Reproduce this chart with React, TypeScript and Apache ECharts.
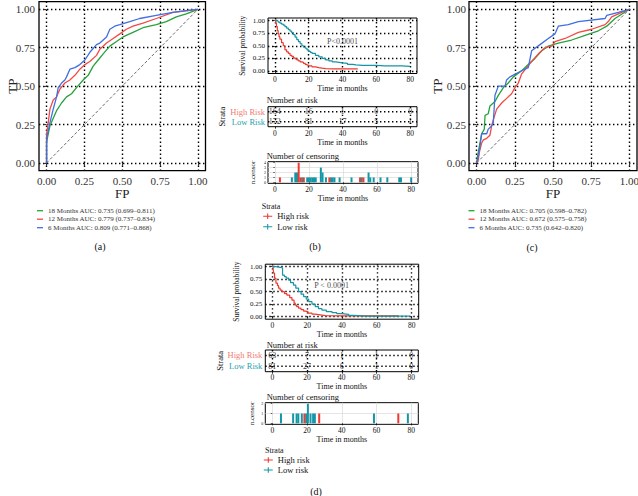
import React, { useEffect, useRef } from 'react';
import * as echarts from 'echarts';

const FONT = 'Liberation Serif';

// ---------- ROC panel (a) ----------
const rocA18: number[][] = [[0,0],[0,0.13],[0.007,0.17],[0.022,0.24],[0.044,0.29],[0.066,0.34],[0.099,0.39],[0.132,0.43],[0.165,0.45],[0.198,0.49],[0.242,0.54],[0.275,0.57],[0.308,0.63],[0.341,0.67],[0.374,0.71],[0.418,0.76],[0.462,0.79],[0.505,0.82],[0.571,0.85],[0.637,0.88],[0.725,0.9],[0.791,0.92],[0.857,0.95],[0.923,0.97],[1,1]];
const rocA12: number[][] = [[0,0],[0,0.19],[0.011,0.26],[0.022,0.35],[0.044,0.41],[0.066,0.43],[0.088,0.48],[0.121,0.52],[0.154,0.54],[0.187,0.57],[0.22,0.61],[0.253,0.64],[0.286,0.66],[0.33,0.7],[0.352,0.74],[0.396,0.78],[0.44,0.81],[0.484,0.84],[0.527,0.87],[0.571,0.89],[0.637,0.91],[0.725,0.94],[0.835,0.98],[0.923,0.99],[1,1]];
const rocA6: number[][] = [[0,0],[0,0.15],[0.007,0.19],[0.022,0.26],[0.044,0.35],[0.066,0.43],[0.077,0.49],[0.099,0.52],[0.121,0.54],[0.132,0.56],[0.154,0.61],[0.187,0.62],[0.22,0.64],[0.253,0.67],[0.286,0.72],[0.33,0.77],[0.352,0.78],[0.396,0.82],[0.418,0.87],[0.45,0.89],[0.484,0.9],[0.55,0.92],[0.615,0.94],[0.725,0.96],[0.835,0.98],[0.945,0.995],[1,1]];
const rocALabels = ['18 Months AUC: 0.735 (0.699–0.811)', '12 Months AUC: 0.779 (0.737–0.834)', '6 Months AUC: 0.809 (0.771–0.868)'];

// ---------- ROC panel (c) ----------
const rocC18: number[][] = [[0,0],[0.007,0.05],[0.022,0.13],[0.033,0.19],[0.05,0.22],[0.055,0.31],[0.076,0.32],[0.087,0.37],[0.12,0.4],[0.142,0.44],[0.175,0.49],[0.207,0.52],[0.24,0.56],[0.295,0.6],[0.338,0.64],[0.382,0.68],[0.426,0.73],[0.469,0.76],[0.535,0.78],[0.622,0.8],[0.71,0.83],[0.797,0.86],[0.852,0.89],[0.906,0.94],[1,1]];
const rocC12: number[][] = [[0,0],[0.011,0.02],[0.017,0.065],[0.033,0.13],[0.044,0.15],[0.066,0.16],[0.087,0.18],[0.098,0.24],[0.109,0.28],[0.131,0.35],[0.164,0.39],[0.207,0.43],[0.229,0.45],[0.251,0.49],[0.273,0.52],[0.295,0.58],[0.328,0.62],[0.36,0.66],[0.404,0.71],[0.448,0.75],[0.491,0.76],[0.513,0.79],[0.579,0.81],[0.666,0.85],[0.753,0.87],[0.841,0.9],[0.862,0.92],[0.884,0.95],[0.95,0.98],[1,1]];
const rocC6: number[][] = [[0,0],[0.011,0.04],[0.022,0.11],[0.033,0.19],[0.066,0.19],[0.076,0.22],[0.098,0.24],[0.109,0.26],[0.12,0.44],[0.142,0.5],[0.186,0.5],[0.196,0.54],[0.218,0.56],[0.295,0.6],[0.338,0.62],[0.36,0.73],[0.415,0.77],[0.469,0.81],[0.513,0.84],[0.535,0.89],[0.6,0.9],[0.666,0.92],[0.841,0.94],[0.852,0.96],[0.928,0.98],[1,1]];
const rocCLabels = ['18 Months AUC: 0.705 (0.598–0.782)', '12 Months AUC: 0.672 (0.575–0.758)', '6 Months AUC: 0.735 (0.642–0.820)'];

const ROC_TICKS = [0, 0.25, 0.5, 0.75, 1];
const SURV_TICKS = [0, 0.25, 0.5, 0.75, 1];
const TIME_TICKS = [0, 20, 40, 60, 80];

// ---------- KM panel (b) ----------
const kmHighBTime = [0,0.5,1,1.5,2,2.5,3,4,5,6,7,8,9,10,11,12,13,14,15,16,17,18,19,20,22,24,26,28,30,35,40,45,49];
const kmHighBSurv = [1,0.95,0.88,0.8,0.74,0.68,0.63,0.56,0.5,0.42,0.38,0.35,0.31,0.29,0.26,0.24,0.22,0.2,0.18,0.17,0.15,0.13,0.115,0.1,0.08,0.066,0.055,0.046,0.04,0.04,0.04,0.04,0.04];
const kmLowBTime = [0,1,2,3,4,5,6,7,8,9,10,11,12,13,14,15,16,17,18,19,20,21,22,24,26,28,30,32,34,36,38,40,43,46,48,52,56,60,65,70,75,80];
const kmLowBSurv = [1,0.99,0.97,0.95,0.93,0.91,0.88,0.85,0.82,0.79,0.76,0.72,0.67,0.62,0.58,0.54,0.5,0.47,0.45,0.42,0.39,0.37,0.35,0.31,0.28,0.25,0.22,0.2,0.18,0.17,0.16,0.15,0.13,0.12,0.11,0.11,0.11,0.1,0.1,0.1,0.09,0.09];
const riskHighB = [164, 16, 1, 0, 0];
const riskLowB = [172, 81, 17, 5, 1];
const censorHighB: number[][] = [[3,1],[14,4],[15,1],[17,1],[32,1],[50,1],[52,1]];
const censorLowB: number[][] = [[10,1],[12,2],[13,2],[16,1],[19,1],[20,1],[21,1],[22,1],[23,1],[24,1],[27,3],[28,2],[30,1],[33,1],[34,1],[35,1],[38,1],[45,1],[51,1],[55,2],[56,1],[58,1],[62,1],[66,1],[73,1],[74,1],[80,1]];

// ---------- KM panel (d) ----------
const kmHighDTime = [0,0.5,0.8,1.3,2.1,3,3.6,4.5,5.6,7,8.4,10,11.3,12.5,13.2,14,15.1,16.5,18,19,20.5,22.8,24.5,26.6,28.5,30.4,40,50,60,72.5];
const kmHighDSurv = [1,0.95,0.87,0.77,0.67,0.62,0.57,0.53,0.5,0.46,0.43,0.38,0.33,0.27,0.23,0.2,0.17,0.14,0.11,0.1,0.07,0.05,0.04,0.03,0.02,0.016,0.016,0.016,0.016,0.016];
const kmLowDTime = [0,2,4,5.6,5.9,7,8,9.4,10.5,12.2,13.5,15.1,16.5,18,19.5,20.9,22.8,24.7,26.5,28.5,31,34.3,37,40,43.8,46,49.6,53,57.2,60,70,79];
const kmLowDSurv = [1,0.99,0.98,0.97,0.83,0.8,0.77,0.73,0.68,0.63,0.57,0.5,0.45,0.4,0.35,0.3,0.25,0.2,0.16,0.13,0.1,0.08,0.06,0.047,0.027,0.02,0.013,0.012,0.012,0.012,0.012,0.012];
const riskHighD = [63, 7, 1, 1, 0];
const riskLowD = [81, 27, 6, 1, 0];
const censorHighD: number[][] = [[18.5,1],[27,1],[72.5,1]];
const censorLowD: number[][] = [[5,1],[12,1],[14,1],[15,1],[17,1],[19.5,1],[20.5,2],[22,1],[23.5,1],[24.5,1],[58.5,1],[78,1]];

const STRATA = ['High risk', 'Low risk'];
const ROWS = ['Low Risk', 'High Risk'];

const C_GREEN = '#25a23b';
const C_RED_ROC = '#f24a44';
const C_BLUE = '#3f6fe3';
const C_RED = '#ee3a2f';
const C_TEAL = '#1596a6';
const C_RED_TXT = '#f27b73';
const C_TEAL_TXT = '#1fa3ae';

const DOT: any = { color: '#000', width: 1.4, type: [1.4, 2.6] };
const GRAY: any = { color: '#dadada', width: 0.7, type: 'solid' };
const STRATA_ICON = 'path://M0,2.5H10V3.5H0Z M4.4,0H5.6V6H4.4Z';

const zip = (t: number[], s: number[]) => t.map((v, i) => [v, s[i]]);

function rocAxes(gi: number, tpGap: number, labelMarginY: number) {
  const base: any = {
    gridIndex: gi, type: 'value', min: -0.05, max: 1.05,
    axisLine: { show: false },
    axisTick: { show: true, length: 3, customValues: ROC_TICKS, lineStyle: { color: '#333', width: 1 } },
    axisLabel: { customValues: ROC_TICKS, formatter: (v: number) => v.toFixed(2), fontSize: 11, color: '#333', fontFamily: FONT, margin: 5 },
    splitLine: { show: true, lineStyle: DOT },
    nameLocation: 'middle', nameMoveOverlap: false,
    nameTextStyle: { fontSize: 13, fontFamily: FONT, color: '#222' },
  };
  return {
    x: { ...base, name: 'FP', nameGap: 16 },
    y: { ...base, name: 'TP', nameGap: tpGap, nameRotate: 90, axisLabel: { ...base.axisLabel, margin: labelMarginY } },
  };
}

function timeAxis(gi: number, margin: number, nameGap: number, split: any) {
  return {
    gridIndex: gi, type: 'value', min: -4, max: 84,
    axisLine: { show: false },
    axisTick: { show: true, length: 2, customValues: TIME_TICKS, lineStyle: { color: '#000', width: 0.8 } },
    axisLabel: { customValues: TIME_TICKS, fontSize: 7.5, lineHeight: 7.5, color: '#111', fontFamily: FONT, margin },
    splitLine: { show: true, lineStyle: split },
    name: 'Time in months', nameLocation: 'middle', nameGap, nameMoveOverlap: false,
    nameTextStyle: { fontSize: 8, lineHeight: 8, fontFamily: FONT, color: '#111' },
  };
}

function survAxis(gi: number, nameGap: number) {
  return {
    gridIndex: gi, type: 'value', min: -0.05, max: 1.05,
    axisLine: { show: false },
    axisTick: { show: true, length: 2, customValues: SURV_TICKS, lineStyle: { color: '#000', width: 0.8 } },
    axisLabel: { customValues: SURV_TICKS, formatter: (v: number) => v.toFixed(2), fontSize: 7, color: '#111', fontFamily: FONT, margin: 3 },
    splitLine: { show: true, lineStyle: DOT },
    name: 'Survival probability', nameLocation: 'middle', nameRotate: 90, nameGap, nameMoveOverlap: false,
    nameTextStyle: { fontSize: 7.5, fontFamily: FONT, color: '#111' },
  };
}

function riskYAxis(gi: number, nameGap: number) {
  return {
    gridIndex: gi, type: 'category', data: ROWS,
    axisLine: { show: false },
    axisTick: { show: true, length: 2, alignWithLabel: true, interval: 0, lineStyle: { color: '#000', width: 0.8 } },
    axisLabel: {
      margin: 3, interval: 0, hideOverlap: false,
      formatter: (v: string) => (v === 'High Risk' ? '{h|' + v + '}' : '{l|' + v + '}'),
      rich: {
        h: { color: C_RED_TXT, fontSize: 8.5, fontFamily: FONT, lineHeight: 9 },
        l: { color: C_TEAL_TXT, fontSize: 8.5, fontFamily: FONT, lineHeight: 9 },
      },
    },
    splitLine: { show: false },
    name: 'Strata', nameLocation: 'middle', nameRotate: 90, nameGap, nameMoveOverlap: false,
    nameTextStyle: { fontSize: 8.5, fontFamily: FONT, color: '#111' },
  };
}

function censorYAxis(gi: number, max: number, ticks: number[], nameGap: number) {
  return {
    gridIndex: gi, type: 'value', min: -max * 0.05, max: max * 1.05,
    axisLine: { show: false },
    axisTick: { show: true, length: 1.5, customValues: ticks, lineStyle: { color: '#000', width: 0.6 } },
    axisLabel: { customValues: ticks, fontSize: 4, lineHeight: 4, color: '#111', fontFamily: FONT, margin: 2 },
    splitLine: { show: true, lineStyle: GRAY },
    name: 'n.censor', nameLocation: 'middle', nameRotate: 90, nameGap, nameMoveOverlap: false,
    nameTextStyle: { fontSize: 7, fontFamily: FONT, color: '#111' },
  };
}

function rocSeries(ai: number, data: number[][][], names: string[]) {
  const colors = [C_GREEN, C_RED_ROC, C_BLUE];
  const s: any[] = data.map((d, i) => ({
    type: 'line', name: names[i], xAxisIndex: ai, yAxisIndex: ai, data: d,
    color: colors[i], showSymbol: false, symbol: 'none', lineStyle: { width: 1.3, color: colors[i] }, z: 3,
  }));
  s.push({
    type: 'line', name: 'diag' + ai, xAxisIndex: ai, yAxisIndex: ai, data: [[0, 0], [1, 1]],
    showSymbol: false, symbol: 'none', color: '#444', lineStyle: { width: 0.8, color: '#444', type: [3, 2] }, z: 2,
  });
  return s;
}

function kmSeries(ai: number, high: number[][], low: number[][], p: number[], pText: string) {
  return [
    { type: 'line', name: 'High risk', xAxisIndex: ai, yAxisIndex: ai, data: high, step: 'end', color: C_RED,
      showSymbol: false, symbol: 'none', lineStyle: { width: 1.2, color: C_RED }, z: 3 },
    { type: 'line', name: 'Low risk', xAxisIndex: ai, yAxisIndex: ai, data: low, step: 'end', color: C_TEAL,
      showSymbol: false, symbol: 'none', lineStyle: { width: 1.2, color: C_TEAL }, z: 3 },
    { type: 'scatter', name: 'p' + ai, xAxisIndex: ai, yAxisIndex: ai, data: [p], symbolSize: 0.1,
      itemStyle: { color: 'rgba(0,0,0,0)' },
      label: { show: true, position: 'inside', formatter: pText, fontSize: 8, fontFamily: FONT, color: '#111' }, z: 4 },
  ];
}

function riskSeries(ai: number, high: number[], low: number[]) {
  const mk = (row: string, vals: number[]) => ({
    type: 'scatter', name: 'risk' + ai + row, xAxisIndex: ai, yAxisIndex: ai,
    data: TIME_TICKS.map((t, i) => [t, row, vals[i]]), symbolSize: 0.1,
    itemStyle: { color: 'rgba(0,0,0,0)' },
    label: { show: true, position: 'inside', formatter: (p: any) => String(p.value[2]), fontSize: 8, fontFamily: FONT, color: '#000' },
    labelLayout: { hideOverlap: false },
    z: 4,
  });
  const line = (row: string) => ({
    type: 'line', name: 'rl' + ai + row, xAxisIndex: ai, yAxisIndex: ai,
    data: [[-4, row], [84, row]], showSymbol: false, symbol: 'none', color: '#000', lineStyle: DOT, z: 2,
  });
  return [line('High Risk'), line('Low Risk'), mk('High Risk', high), mk('Low Risk', low)];
}

function censorSeries(ai: number, high: number[][], low: number[][]) {
  return [
    { type: 'bar', name: 'Low risk', xAxisIndex: ai, yAxisIndex: ai, data: low, barWidth: 2, barGap: '-100%', color: C_TEAL, itemStyle: { color: C_TEAL }, z: 3 },
    { type: 'bar', name: 'High risk', xAxisIndex: ai, yAxisIndex: ai, data: high, barWidth: 2, barGap: '-100%', color: C_RED, itemStyle: { color: C_RED }, z: 3 },
  ];
}

function label(text: string, x: number, y: number, size: number, align = 'left', rotate = 0) {
  return {
    type: 'text', x, y, rotation: rotate,
    style: { text, fontSize: size, fontFamily: FONT, fill: '#111', align, verticalAlign: 'middle' },
    silent: true,
  };
}

function buildOption(): any {
  const gridBase = { show: true, borderColor: '#000', borderWidth: 1, backgroundColor: 'transparent', containLabel: false, outerBoundsMode: 'none' };
  const grid = [
    { ...gridBase, left: 39, top: 1.6, width: 166.5, height: 169, borderWidth: 1.3 },   // a
    { ...gridBase, left: 268, top: 18, width: 149, height: 55.5 },                      // b km
    { ...gridBase, left: 268, top: 106.7, width: 149, height: 20 },                     // b risk
    { ...gridBase, left: 268, top: 161.7, width: 150, height: 21.6 },                   // b censor
    { ...gridBase, left: 469, top: 1.6, width: 168, height: 169, borderWidth: 1.3 },    // c
    { ...gridBase, left: 265.3, top: 264.2, width: 153.4, height: 55 },                 // d km
    { ...gridBase, left: 265.3, top: 350, width: 153, height: 21.7 },                   // d risk
    { ...gridBase, left: 265.3, top: 402.7, width: 153, height: 21.6 },                 // d censor
  ];
  const ra = rocAxes(0, 20.5, 4);
  const rc = rocAxes(4, 25.5, 3);
  const xAxis = [
    ra.x,
    timeAxis(1, 2.3, 10.5, DOT),
    timeAxis(2, 3.5, 11.5, DOT),
    timeAxis(3, 2.5, 11, GRAY),
    rc.x,
    timeAxis(5, 3, 11, DOT),
    timeAxis(6, 2.5, 11, DOT),
    timeAxis(7, 2, 11, GRAY),
  ];
  const yAxis = [
    ra.y,
    survAxis(1, 21.7),
    riskYAxis(2, 42),
    censorYAxis(3, 4, [0, 1, 2, 3, 4], 11.2),
    rc.y,
    survAxis(5, 25),
    riskYAxis(6, 41),
    censorYAxis(7, 2, [0, 1, 2], 10),
  ];
  const series = [
    ...rocSeries(0, [rocA18, rocA12, rocA6], rocALabels),
    ...kmSeries(1, zip(kmHighBTime, kmHighBSurv), zip(kmLowBTime, kmLowBSurv), [40, 0.59], 'P<0.0001'),
    ...riskSeries(2, riskHighB, riskLowB),
    ...censorSeries(3, censorHighB, censorLowB),
    ...rocSeries(4, [rocC18, rocC12, rocC6], rocCLabels),
    ...kmSeries(5, zip(kmHighDTime, kmHighDSurv), zip(kmLowDTime, kmLowDSurv), [34, 0.63], 'P < 0.0001'),
    ...riskSeries(6, riskHighD, riskLowD),
    ...censorSeries(7, censorHighD, censorLowD),
  ];
  const rocLegend = (names: string[], left: number) => ({
    data: names, left, top: 206.7, orient: 'vertical', icon: 'rect', itemWidth: 6, itemHeight: 1.3,
    itemGap: 0.5, padding: 0, selectedMode: false,
    textStyle: { fontSize: 7, fontFamily: FONT, color: '#333', lineHeight: 8 },
  });
  const strataLegend = (left: number, top: number, gap: number) => ({
    data: STRATA, left, top, orient: 'vertical', icon: STRATA_ICON, itemWidth: 9, itemHeight: 6,
    itemGap: gap, padding: 0, selectedMode: false,
    textStyle: { fontSize: 8.5, fontFamily: FONT, color: '#111', lineHeight: 9 },
  });
  return {
    animation: false,
    backgroundColor: '#fff',
    textStyle: { fontFamily: FONT },
    grid, xAxis, yAxis, series,
    legend: [
      rocLegend(rocALabels, 37),
      rocLegend(rocCLabels, 468.5),
      strataLegend(263.2, 211.7, 1.6),
      strataLegend(263.8, 455.5, 1),
    ],
    graphic: [
      label('(a)', 100, 246.7, 10, 'center'),
      label('(b)', 315, 246.7, 10, 'center'),
      label('(c)', 532, 247, 10, 'center'),
      label('(d)', 316, 491, 10, 'center'),
      label('Number at risk', 266.7, 100, 8.5),
      label('Number of censoring', 266.7, 156, 8.5),
      label('Number at risk', 266.7, 345, 8.5),
      label('Number of censoring', 266.7, 397.3, 8.5),
      label('Strata', 261.7, 206.7, 8),
      label('Strata', 265, 450, 8),
    ],
  };
}

export default function App() {
  const ref = useRef<HTMLDivElement>(null);
  useEffect(() => {
    if (!ref.current) return;
    const chart = echarts.init(ref.current, null, { renderer: 'svg' });
    chart.setOption(buildOption());
    return () => chart.dispose();
  }, []);
  return <div ref={ref} style={{ position: 'absolute', left: 0, top: 0, width: 638, height: 496, background: '#fff' }} />;
}
